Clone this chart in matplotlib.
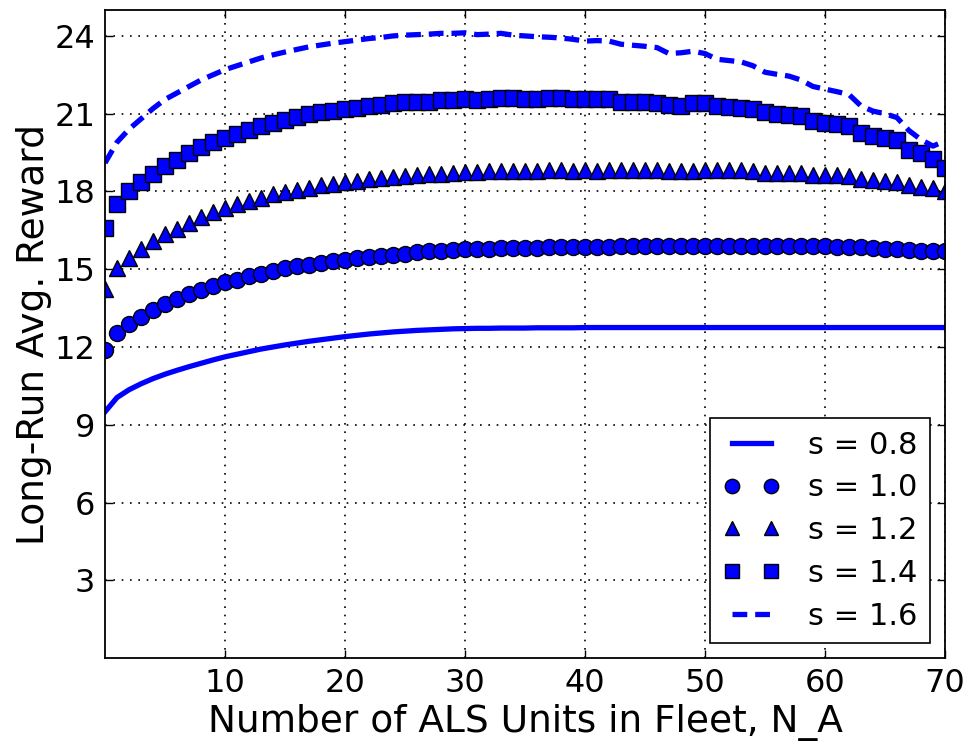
import matplotlib
matplotlib.use('Agg')
import matplotlib.pyplot as plt
import numpy as np

# fleet size N_A = 0..70
n_a = np.arange(0, 71)

# s = 0.8 (solid line)
r08 = [9.5, 10.05, 10.35, 10.58, 10.78, 10.95, 11.1, 11.24, 11.37, 11.5,
       11.62, 11.72, 11.82, 11.92, 12.0, 12.08, 12.15, 12.22, 12.28, 12.34,
       12.4, 12.45, 12.5, 12.54, 12.58, 12.61, 12.64, 12.66, 12.68, 12.7,
       12.71, 12.72, 12.72, 12.73, 12.73, 12.73, 12.74, 12.74, 12.74, 12.74,
       12.75, 12.75, 12.75, 12.75, 12.75, 12.75, 12.75, 12.75, 12.75, 12.75,
       12.75, 12.75, 12.75, 12.75, 12.75, 12.75, 12.75, 12.75, 12.75, 12.75,
       12.75, 12.75, 12.75, 12.75, 12.75, 12.75, 12.75, 12.75, 12.75, 12.75,
       12.75]

# s = 1.0 (circles)
r10 = [11.9, 12.55, 12.9, 13.15, 13.42, 13.65, 13.85, 14.03, 14.2, 14.35,
       14.5, 14.6, 14.73, 14.83, 14.93, 15.03, 15.12, 15.18, 15.25, 15.3,
       15.37, 15.43, 15.48, 15.52, 15.56, 15.6, 15.65, 15.69, 15.72, 15.74,
       15.77, 15.78, 15.79, 15.8, 15.82, 15.82, 15.83, 15.84, 15.84, 15.85,
       15.85, 15.86, 15.87, 15.88, 15.88, 15.88, 15.88, 15.88, 15.88, 15.88,
       15.88, 15.88, 15.88, 15.88, 15.88, 15.88, 15.88, 15.88, 15.88, 15.88,
       15.88, 15.87, 15.86, 15.84, 15.82, 15.79, 15.77, 15.74, 15.72, 15.72,
       15.7]

# s = 1.2 (triangles)
r12 = [14.25, 15.05, 15.45, 15.77, 16.08, 16.35, 16.57, 16.8, 17.0, 17.2,
       17.35, 17.5, 17.65, 17.75, 17.9, 17.98, 18.07, 18.15, 18.25, 18.28,
       18.35, 18.42, 18.47, 18.5, 18.55, 18.6, 18.64, 18.66, 18.69, 18.72,
       18.75, 18.76, 18.79, 18.79, 18.8, 18.8, 18.8, 18.82, 18.82, 18.8,
       18.82, 18.8, 18.81, 18.81, 18.81, 18.81, 18.81, 18.77, 18.77, 18.77,
       18.83, 18.81, 18.81, 18.81, 18.79, 18.73, 18.73, 18.73, 18.7, 18.64,
       18.62, 18.62, 18.6, 18.47, 18.45, 18.42, 18.38, 18.26, 18.19, 18.13,
       18.0]

# s = 1.4 (squares)
r14 = [16.6, 17.5, 18.0, 18.35, 18.68, 19.0, 19.23, 19.47, 19.7, 19.9,
       20.08, 20.22, 20.38, 20.53, 20.64, 20.75, 20.87, 20.97, 21.08, 21.12,
       21.18, 21.23, 21.3, 21.35, 21.4, 21.45, 21.46, 21.46, 21.51, 21.54,
       21.56, 21.54, 21.56, 21.59, 21.6, 21.55, 21.55, 21.62, 21.59, 21.55,
       21.55, 21.55, 21.55, 21.46, 21.46, 21.46, 21.43, 21.33, 21.31, 21.42,
       21.42, 21.3, 21.26, 21.23, 21.2, 21.05, 20.99, 20.95, 20.91, 20.73,
       20.65, 20.6, 20.54, 20.24, 20.15, 20.08, 19.99, 19.59, 19.47, 19.26,
       18.9]

# s = 1.6 (dashed line)
r16 = [19.1, 19.9, 20.4, 20.8, 21.2, 21.55, 21.8, 22.05, 22.3, 22.5,
       22.7, 22.85, 23.0, 23.15, 23.27, 23.38, 23.48, 23.58, 23.65, 23.72,
       23.78, 23.84, 23.9, 23.94, 24.0, 24.03, 24.05, 24.07, 24.1, 24.1,
       24.12, 24.05, 24.07, 24.1, 24.03, 24.0, 23.97, 23.95, 23.92, 23.87,
       23.8, 23.82, 23.8, 23.68, 23.64, 23.6, 23.55, 23.32, 23.35, 23.41,
       23.32, 23.1, 23.05, 23.0, 22.85, 22.6, 22.52, 22.45, 22.3, 22.05,
       21.95, 21.85, 21.74, 21.3, 21.1, 21.0, 20.85, 20.35, 20.0, 19.75,
       19.95]

labels = ['s = 0.8', 's = 1.0', 's = 1.2', 's = 1.4', 's = 1.6']
xticks = [10, 20, 30, 40, 50, 60, 70]
yticks = [3, 6, 9, 12, 15, 18, 21, 24]

plt.rcParams['xtick.direction'] = 'in'
plt.rcParams['ytick.direction'] = 'in'
plt.rcParams['xtick.top'] = True
plt.rcParams['ytick.right'] = True

fig = plt.figure(figsize=(9.67, 7.47), dpi=100)
ax = fig.add_axes([0.1086, 0.1191, 0.8686, 0.8675])

blue = '#0000ff'
ax.plot(n_a, r08, '-', color=blue, lw=3.8, label=labels[0])
ax.plot(n_a, r10, 'o', color=blue, mec='k', mew=1, ms=11.5, label=labels[1])
ax.plot(n_a, r12, '^', color=blue, mec='k', mew=1, ms=11.5, label=labels[2])
ax.plot(n_a, r14, 's', color=blue, mec='k', mew=1, ms=11, label=labels[3])
ax.plot(n_a, r16, '--', color=blue, lw=3.8, dashes=(2.8, 1.5), label=labels[4])

ax.set_xlim(0, 70)
ax.set_ylim(0, 25)
ax.set_xticks(xticks)
ax.set_yticks(yticks)
ax.tick_params(labelsize=23, length=6, width=1, pad=7)
ax.grid(True, color='k', linestyle=(0, (1, 4)), linewidth=1.2)
for sp in ax.spines.values():
    sp.set_linewidth(1.3)

ax.set_xlabel('Number of ALS Units in Fleet, N_A', fontsize=27, labelpad=4)
ax.set_ylabel('Long-Run Avg. Reward', fontsize=27, labelpad=2)

leg = ax.legend(loc='lower right', numpoints=2, fontsize=22, handlelength=1.9,
                fancybox=False, framealpha=1, edgecolor='k', borderaxespad=0.5,
                labelspacing=0.45, handletextpad=0.9, markerscale=0.9)
leg.get_frame().set_linewidth(1.2)

fig.savefig('out.png', dpi=100)
